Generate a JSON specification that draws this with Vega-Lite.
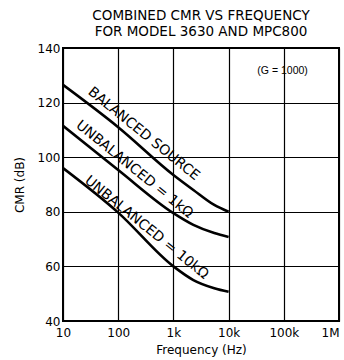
{
  "$schema": "https://vega.github.io/schema/vega-lite/v6.json",
  "width": 276,
  "height": 273,
  "autosize": {"type": "none"},
  "padding": {"left": 63, "top": 48, "right": 5, "bottom": 39},
  "background": "white",
  "title": {
    "text": ["COMBINED CMR VS FREQUENCY", "FOR MODEL 3630 AND MPC800"],
    "font": "DejaVu Sans",
    "fontSize": 13.5,
    "fontWeight": "normal",
    "color": "black",
    "anchor": "middle",
    "offset": 4,
    "lineHeight": 16
  },
  "config": {
    "view": {"stroke": "black", "strokeWidth": 2},
    "axis": {
      "grid": true,
      "gridColor": "black",
      "gridOpacity": 1,
      "gridWidth": 1.2,
      "domain": false,
      "ticks": false,
      "labelFont": "DejaVu Sans",
      "labelFontSize": 12,
      "labelColor": "black",
      "titleFont": "DejaVu Sans",
      "titleFontSize": 12,
      "titleFontWeight": "normal",
      "titleColor": "black"
    }
  },
  "datasets": {
    "curves": [
      {"series": "balanced", "freq": 10, "cmr": 126.5},
      {"series": "balanced", "freq": 100, "cmr": 111},
      {"series": "balanced", "freq": 1000, "cmr": 93.5},
      {"series": "balanced", "freq": 2300, "cmr": 88},
      {"series": "balanced", "freq": 5500, "cmr": 82.5},
      {"series": "balanced", "freq": 10000, "cmr": 80},
      {"series": "unbal1k", "freq": 10, "cmr": 111.5},
      {"series": "unbal1k", "freq": 100, "cmr": 95.3},
      {"series": "unbal1k", "freq": 1000, "cmr": 79.5},
      {"series": "unbal1k", "freq": 2300, "cmr": 75.2},
      {"series": "unbal1k", "freq": 5500, "cmr": 72.2},
      {"series": "unbal1k", "freq": 10000, "cmr": 70.8},
      {"series": "unbal10k", "freq": 10, "cmr": 96},
      {"series": "unbal10k", "freq": 100, "cmr": 79.7},
      {"series": "unbal10k", "freq": 1000, "cmr": 60},
      {"series": "unbal10k", "freq": 2300, "cmr": 55},
      {"series": "unbal10k", "freq": 5500, "cmr": 52},
      {"series": "unbal10k", "freq": 10000, "cmr": 50.7}
    ],
    "labels": [
      {"text": "BALANCED SOURCE", "freq": 290, "cmr": 108.5},
      {"text": "UNBALANCED = 1kΩ", "freq": 197, "cmr": 95.5},
      {"text": "UNBALANCED = 10kΩ", "freq": 326, "cmr": 74.2}
    ],
    "note": [
      {"text": "(G = 1000)", "freq": 95000, "cmr": 131.5}
    ]
  },
  "layer": [
    {
      "data": {"name": "curves"},
      "mark": {"type": "line", "color": "black", "strokeWidth": 2.6, "interpolate": "monotone", "clip": true},
      "encoding": {
        "x": {
          "field": "freq",
          "type": "quantitative",
          "scale": {"type": "log", "domain": [10, 1000000]},
          "axis": {
            "title": "Frequency (Hz)",
            "values": [10, 100, 1000, 10000, 100000, 1000000],
            "labelExpr": "datum.value >= 1000000 ? '1M' : datum.value >= 1000 ? format(datum.value/1000, 'd') + 'k' : format(datum.value, 'd')",
            "labelPadding": 6,
            "titlePadding": 6,
            "labelFlush": false,
            "labelAlign": {"condition": {"test": "datum.value >= 1000000", "value": "right"}, "value": "center"}
          }
        },
        "y": {
          "field": "cmr",
          "type": "quantitative",
          "scale": {"domain": [40, 140]},
          "axis": {
            "title": "CMR (dB)",
            "values": [40, 60, 80, 100, 120, 140],
            "labelPadding": 3,
            "titlePadding": 11
          }
        },
        "detail": {"field": "series"}
      }
    },
    {
      "data": {"name": "labels"},
      "mark": {"type": "text", "font": "DejaVu Sans", "fontSize": 14, "angle": 39, "color": "black", "align": "center", "baseline": "middle"},
      "encoding": {
        "x": {"field": "freq", "type": "quantitative", "scale": {"type": "log"}},
        "y": {"field": "cmr", "type": "quantitative"},
        "text": {"field": "text"}
      }
    },
    {
      "data": {"name": "note"},
      "mark": {"type": "text", "font": "Liberation Sans", "fontSize": 10.5, "color": "black", "align": "center", "baseline": "middle"},
      "encoding": {
        "x": {"field": "freq", "type": "quantitative", "scale": {"type": "log"}},
        "y": {"field": "cmr", "type": "quantitative"},
        "text": {"field": "text"}
      }
    }
  ]
}
